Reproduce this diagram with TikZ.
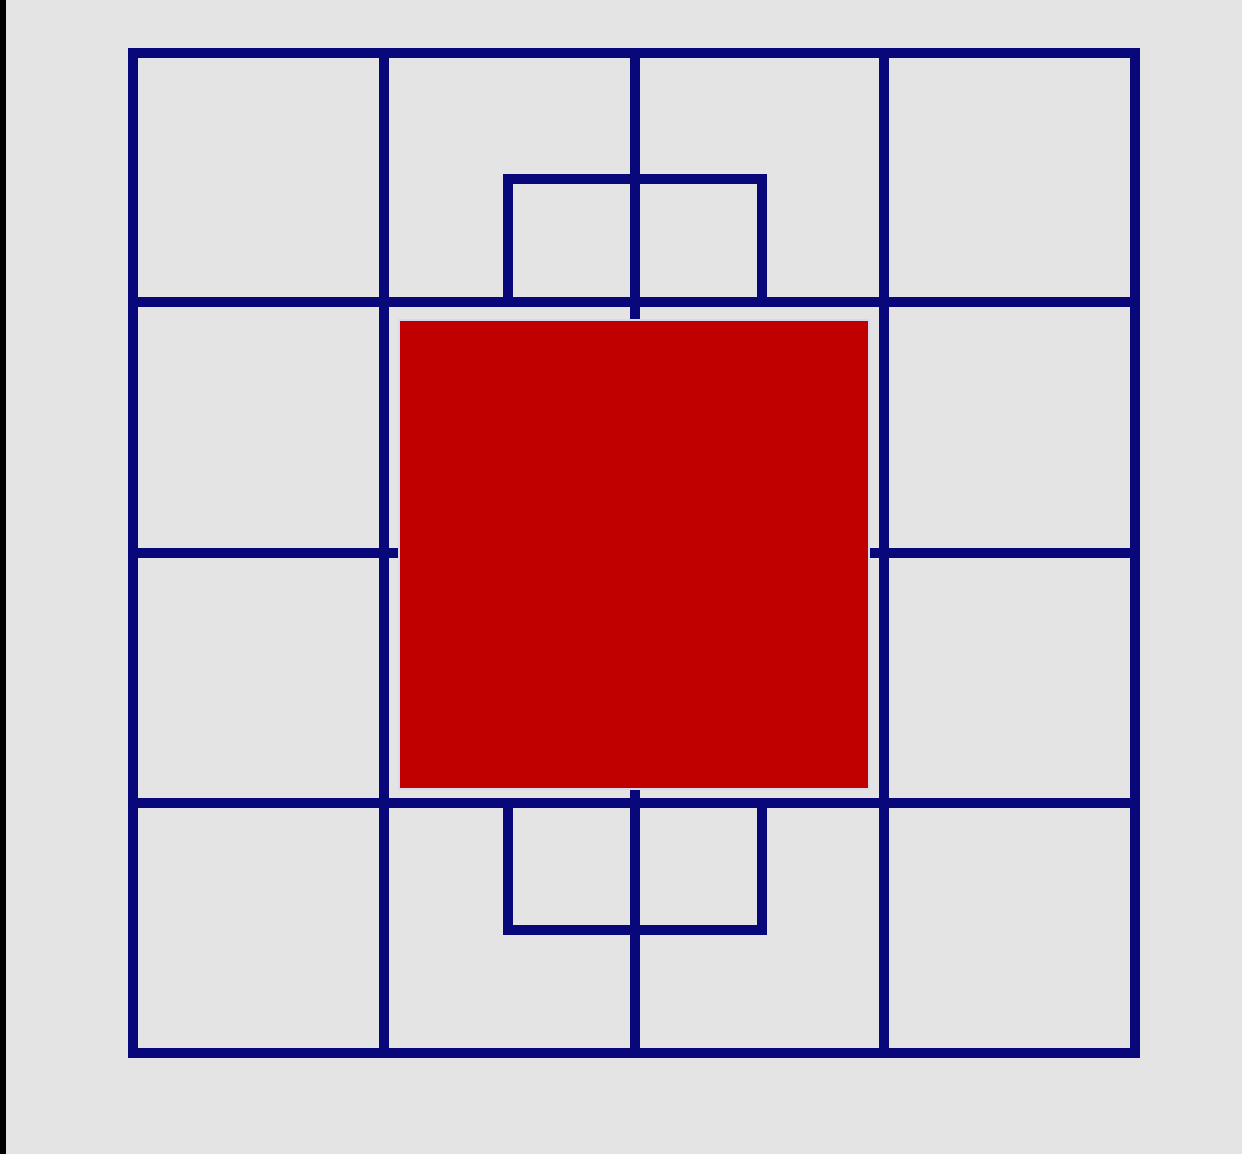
\documentclass[tikz,border=0pt]{standalone}
\definecolor{bg}{HTML}{E4E4E4}
\definecolor{navy}{HTML}{08087A}
\definecolor{redsq}{HTML}{C00000}
\definecolor{edge}{HTML}{D6DAEC}
\begin{document}
\begin{tikzpicture}[x=0.01cm,y=-0.01cm,
  gridline/.style={draw=navy,line width=2.6pt,line cap=rect,line join=miter},
  redbox/.style={fill=redsq,draw=edge,line width=0.6pt}]
\useasboundingbox (0,0) rectangle (1242,1154);
\fill[bg] (0,0) rectangle (1242,1154);
\fill[black] (0,0) rectangle (6,1154);
% small rectangles
\draw[gridline] (508,302) -- (508,179) -- (762,179) -- (762,302);
\draw[gridline] (508,803) -- (508,930) -- (762,930) -- (762,803);
% grid
\foreach \v in {384,635,884} \draw[gridline] (\v,53) -- (\v,1053);
\foreach \h in {302,553,803} \draw[gridline] (133,\h) -- (1135,\h);
\draw[gridline] (133,53) rectangle (1135,1053);
% red square
\node[redbox,minimum width=4.7cm,minimum height=4.69cm,inner sep=0pt,anchor=north west] (red) at (398,319) {};
\end{tikzpicture}
\end{document}
